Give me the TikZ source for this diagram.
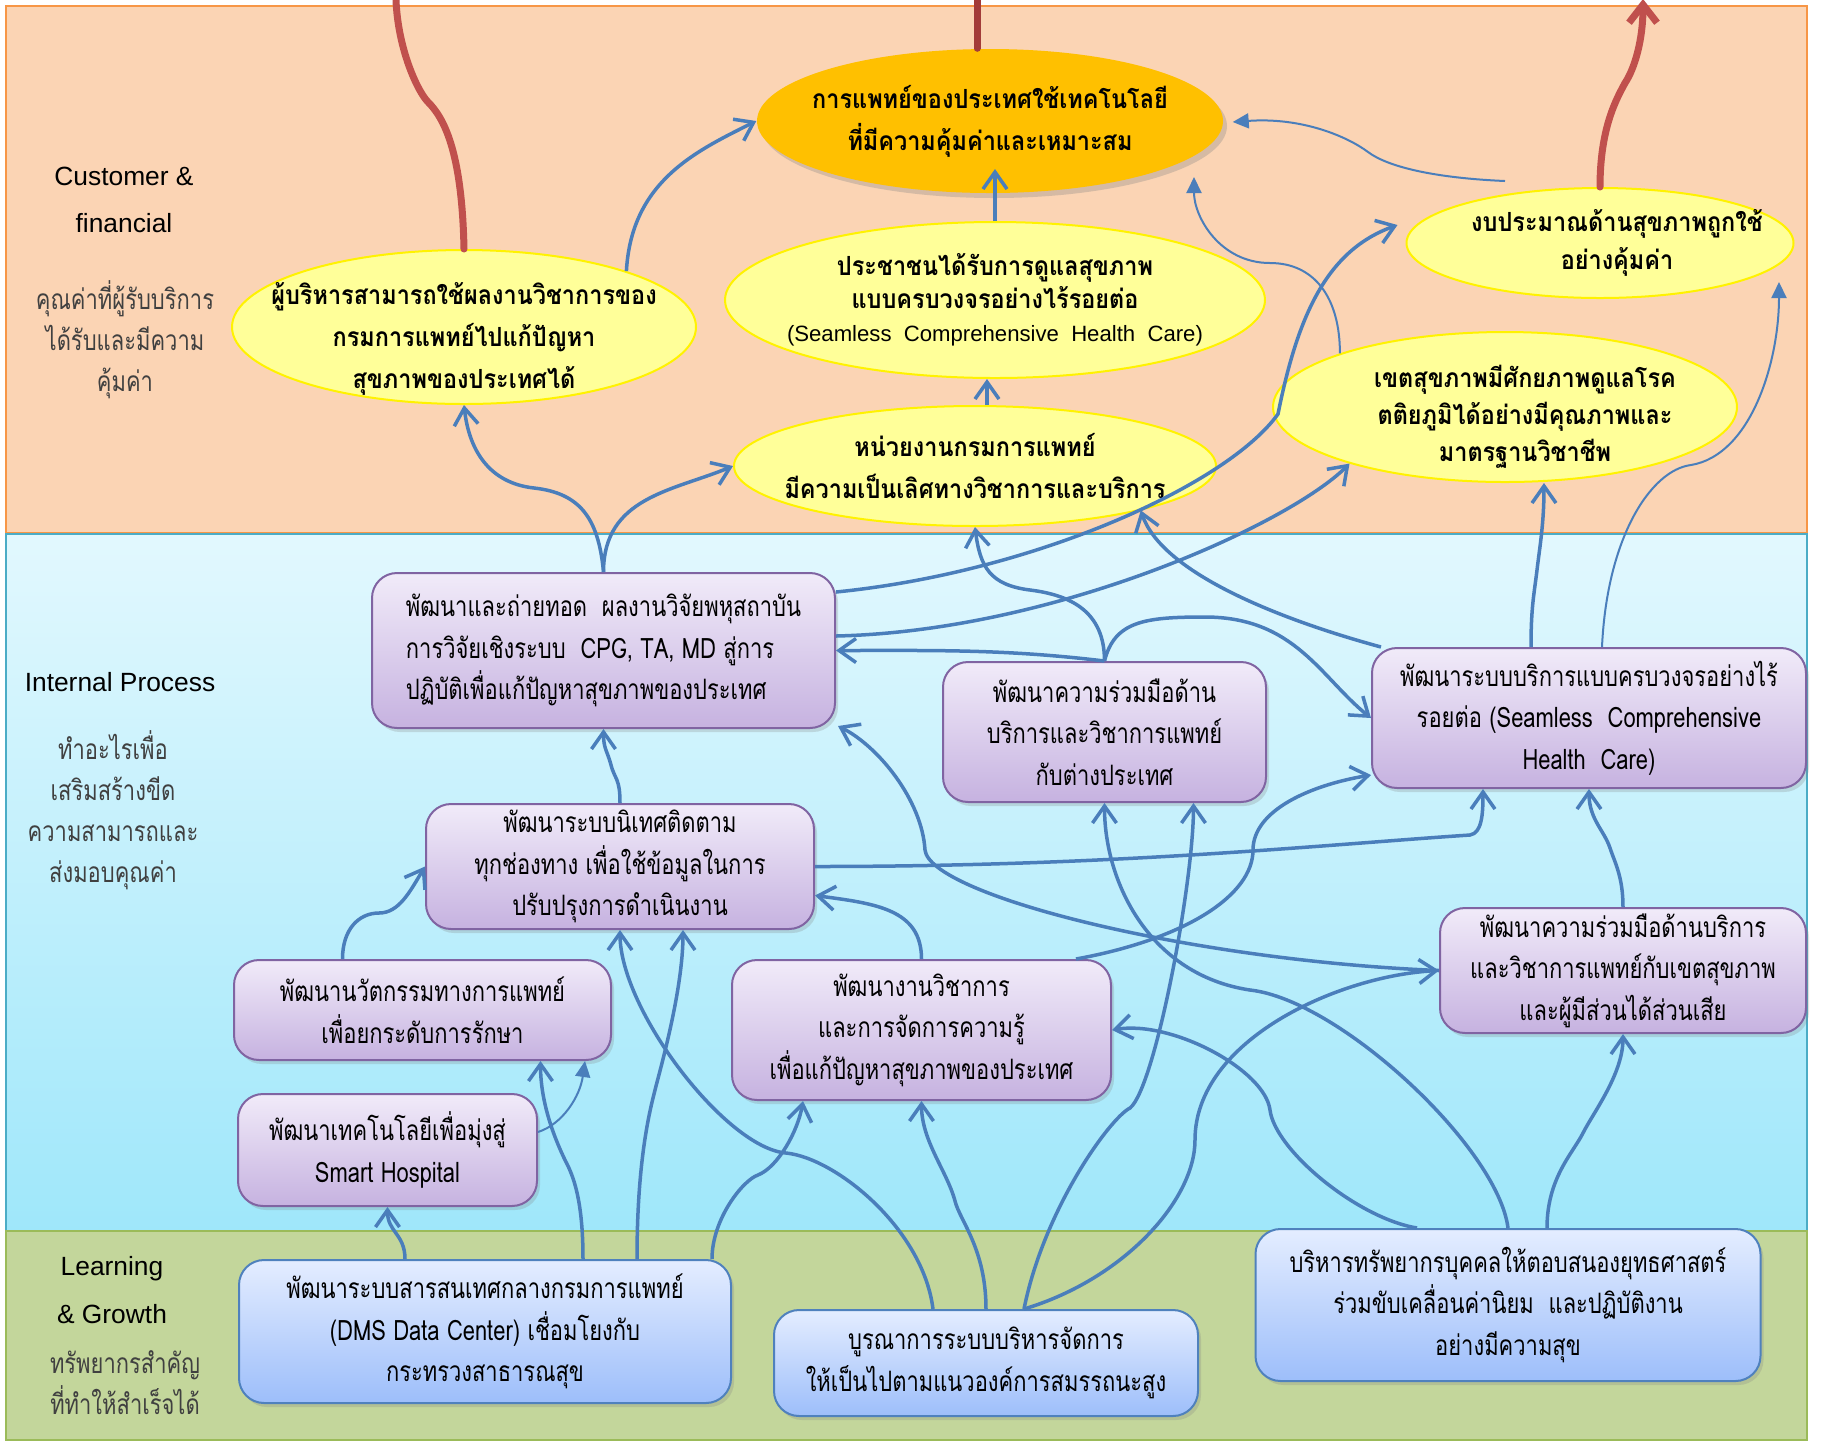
\documentclass[tikz,border=0pt]{standalone}
\usepackage{fontspec}
\setmainfont[Script=Thai]{Loma}
\newfontfamily\thainarrow[Script=Thai, FakeStretch=0.78]{Loma}
\newfontfamily\thaibold[Script=Thai, FakeStretch=0.89]{Loma}
\newfontfamily\latinsans{Liberation Sans}
\usepackage{tikz}
\usetikzlibrary{arrows.meta, calc, shapes.geometric, shadows}

\definecolor{bandtop}{HTML}{FBD4B4}
\definecolor{bandtopline}{HTML}{F79646}
\definecolor{bandmidhi}{HTML}{E2F8FE}
\definecolor{bandmidlo}{HTML}{9FE7FA}
\definecolor{bandmidline}{HTML}{4BACC6}
\definecolor{bandlow}{HTML}{C3D69B}
\definecolor{bandlowline}{HTML}{9BBB59}
\definecolor{yellfill}{HTML}{FFFF99}
\definecolor{goalfill}{HTML}{FFC000}
\definecolor{prochi}{HTML}{F1EBF9}
\definecolor{proclo}{HTML}{C6B2E0}
\definecolor{procline}{HTML}{8064A2}
\definecolor{learnhi}{HTML}{E4EDFF}
\definecolor{learnlo}{HTML}{9DBEFA}
\definecolor{learnline}{HTML}{4F81BD}
\definecolor{linkblue}{HTML}{4A7EBB}
\definecolor{redlink}{HTML}{C0504D}
\definecolor{reddark}{HTML}{A33B39}
\definecolor{notegray}{HTML}{404040}

\newcommand\ellfont{\thaibold\bfseries\fontsize{7.5}{11.9}\selectfont}
\newcommand\boxfont{\thainarrow\fontsize{8}{11.8}\selectfont}

\begin{document}
\begin{tikzpicture}[x=0.1mm, y=-0.1mm,
	side/.style={align=center, font=\latinsans\fontsize{7.5}{13.6}\selectfont},
	sidenote/.style={align=center, text=notegray, font=\thainarrow\fontsize{8}{11.7}\selectfont},
	ellip/.style={ellipse, fill=yellfill, draw=yellow, line width=0.2mm, align=center,
		inner xsep=-20mm, inner ysep=-8mm, font=\ellfont},
	elltext/.style={align=center, inner sep=0pt, font=\ellfont},
	goal/.style={ellipse, fill=goalfill, align=center, inner xsep=-20mm, inner ysep=-8mm, font=\ellfont,
		drop shadow={opacity=0.3, shadow xshift=0.4mm, shadow yshift=-0.5mm}},
	proc/.style={rectangle, rounded corners=2.5mm, top color=prochi, bottom color=proclo, draw=procline,
		line width=0.2mm, align=center, inner sep=0pt, font=\boxfont,
		drop shadow={opacity=0.25, shadow xshift=0.3mm, shadow yshift=-0.4mm}},
	learn/.style={proc, top color=learnhi, bottom color=learnlo, draw=learnline},
	flow/.style={draw=linkblue, line width=0.35mm, -{Straight Barb[length=1.7mm, width=2.4mm]}},
	feed/.style={draw=linkblue, line width=0.2mm, -{Triangle[length=1.6mm, width=1.5mm]}},
	redline/.style={draw=redlink, line width=0.7mm, line cap=round}]

	\useasboundingbox (0,0) rectangle (1825,1441);
	\path [fill=bandtop, draw=bandtopline, line width=0.25mm] (6,6) rectangle (1807,533);
	\path [top color=bandmidhi, bottom color=bandmidlo, draw=bandmidline, line width=0.25mm] (6,534) rectangle (1807,1231);
	\path [fill=bandlow, draw=bandlowline, line width=0.25mm] (6,1231) rectangle (1807,1440);

	\node (H1) at (124,200) [side] {Customer \&\\financial};
	\node (N1) at (125,340) [sidenote] {คุณค่าที่ผู้รับบริการ\\ได้รับและมีความ\\คุ้มค่า};
	\node (H2) at (120,682) [side] {Internal Process};
	\node (N2) at (113,810) [sidenote] {ทำอะไรเพื่อ\\เสริมสร้างขีด\\ความสามารถและ\\ส่งมอบคุณค่า};
	\node (H3) at (112,1290) [side] {Learning\\\& Growth};
	\node (N3) at (125,1383) [sidenote] {ทรัพยากรสำคัญ\\ที่ทำให้สำเร็จได้};

	\node (EO) at (990,121) [goal, minimum width=46.6mm, minimum height=14.4mm] {การแพทย์ของประเทศใช้เทคโนโลยี\\ที่มีความคุ้มค่าและเหมาะสม};
	\node (E1) at (464,327) [ellip, minimum width=46.4mm, minimum height=15.4mm] {};
	\path (E1) ++(0,12) node (E1T) [elltext] {ผู้บริหารสามารถใช้ผลงานวิชาการของ\\กรมการแพทย์ไปแก้ปัญหา\\สุขภาพของประเทศได้};
	\node (E2) at (995,300) [ellip, minimum width=54mm, minimum height=15.6mm, font=\thaibold\bfseries\fontsize{7.5}{9.4}\selectfont] {ประชาชนได้รับการดูแลสุขภาพ\\แบบครบวงจรอย่างไร้รอยต่อ\\{\latinsans\mdseries\fontsize{6.3}{9.4}\selectfont (Seamless\ \ Comprehensive\ \ Health\ \ Care)}};
	\node (E3) at (975,466) [ellip, minimum width=48.2mm, minimum height=12mm] {หน่วยงานกรมการแพทย์\\มีความเป็นเลิศทางวิชาการและบริการ};
	\node (E4) at (1600,243) [ellip, minimum width=38.7mm, minimum height=11mm] {};
	\path (E4) ++(17,0) node (E4T) [elltext, font=\thaibold\bfseries\fontsize{7.5}{10.8}\selectfont] {งบประมาณด้านสุขภาพถูกใช้\\อย่างคุ้มค่า};
	\node (E5) at (1505,407) [ellip, minimum width=46.4mm, minimum height=15mm] {};
	\path (E5) ++(20,10) node (E5T) [elltext, font=\thaibold\bfseries\fontsize{7.5}{10.6}\selectfont] {เขตสุขภาพมีศักยภาพดูแลโรค\\ตติยภูมิได้อย่างมีคุณภาพและ\\มาตรฐานวิชาชีพ};

	\node (P1) at (603.5,650.5) [proc, minimum width=46.3mm, minimum height=15.5mm, align=left] {พัฒนาและถ่ายทอด\ \ ผลงานวิจัยพหุสถาบัน\\การวิจัยเชิงระบบ\ \ CPG, TA, MD สู่การ\\ปฏิบัติเพื่อแก้ปัญหาสุขภาพของประเทศ};
	\node (P2) at (620,866.5) [proc, minimum width=38.8mm, minimum height=12.5mm] {พัฒนาระบบนิเทศติดตาม\\ทุกช่องทาง เพื่อใช้ข้อมูลในการ\\ปรับปรุงการดำเนินงาน};
	\node (P3) at (422.5,1010) [proc, minimum width=37.7mm, minimum height=10mm] {พัฒนานวัตกรรมทางการแพทย์\\เพื่อยกระดับการรักษา};
	\node (P4) at (387.5,1150) [proc, minimum width=29.9mm, minimum height=11.2mm] {พัฒนาเทคโนโลยีเพื่อมุ่งสู่\\Smart Hospital};
	\node (P5) at (921.5,1030) [proc, minimum width=37.9mm, minimum height=14mm] {พัฒนางานวิชาการ\\และการจัดการความรู้\\เพื่อแก้ปัญหาสุขภาพของประเทศ};
	\node (P6) at (1104.5,732) [proc, minimum width=32.3mm, minimum height=14mm] {พัฒนาความร่วมมือด้าน\\บริการและวิชาการแพทย์\\กับต่างประเทศ};
	\node (P7) at (1589,718) [proc, minimum width=43.4mm, minimum height=14mm] {พัฒนาระบบบริการแบบครบวงจรอย่างไร้\\รอยต่อ (Seamless\ \ Comprehensive\\Health\ \ Care)};
	\node (P8) at (1623,970.5) [proc, minimum width=36.6mm, minimum height=12.5mm] {พัฒนาความร่วมมือด้านบริการ\\และวิชาการแพทย์กับเขตสุขภาพ\\และผู้มีส่วนได้ส่วนเสีย};

	\node (L1) at (485,1331.5) [learn, minimum width=49.2mm, minimum height=14.3mm] {พัฒนาระบบสารสนเทศกลางกรมการแพทย์\\(DMS Data Center) เชื่อมโยงกับ\\กระทรวงสาธารณสุข};
	\node (L2) at (986,1363) [learn, minimum width=42.4mm, minimum height=10.6mm] {บูรณาการระบบบริหารจัดการ\\ให้เป็นไปตามแนวองค์การสมรรถนะสูง};
	\node (L3) at (1508,1305) [learn, minimum width=50.5mm, minimum height=15.2mm] {บริหารทรัพยากรบุคคลให้ตอบสนองยุทธศาสตร์\\ร่วมขับเคลื่อนค่านิยม\ \ และปฏิบัติงาน\\อย่างมีความสุข};

	\coordinate (T1) at (396,0);
	\coordinate (T2) at (977,0);
	\coordinate (T3) at (1643,-1);
	\draw [redline] (E1.north) .. controls +(-2,-100) and +(15,15) .. (428,102) .. controls +(-10,-10) and +(2,50) .. (T1);
	\draw [redline, draw=reddark] ($(EO.north)+(-13,0)$) -- (T2);
	\draw [redline, -{Straight Barb[length=1.8mm, width=2.8mm]}] (E4.north) .. controls +(0,-60) and +(-8,15) .. (1625,83) .. controls +(10,-15) and +(0,40) .. (T3);

	\draw [flow] (P1.north) .. controls +(-5,-55) and +(45,5) .. (534,488) .. controls +(-45,-5) and +(5,45) .. (E1.south);
	\draw [flow] (P1.north) .. controls +(0,-75) and +(-60,25) .. (E3.west);
	\draw [flow] (E1.19) .. controls +(5,-90) and +(-60,30) .. (EO.west);
	\draw [flow] (E2.north) -- ++(0,-52);
	\draw [flow] ($(E3.north)+(12,0)$) -- ($(E2.south)+(-8,0)$);
	\draw [flow] ($(P1.north east)+(0,20)$) .. controls +(200,-20) and +(-50,70) .. (1278,414) .. controls +(20,-100) and +(-70,25) .. ($(E4.west)+(-8,-18)$);
	\draw [flow] ($(P1.north east)+(0,64)$) .. controls +(220,-5) and +(-60,60) .. (E5.200);
	\draw [flow] (P6.north) .. controls +(0,-50) and +(40,5) .. (1030,590) .. controls +(-40,-5) and +(5,40) .. (E3.south);
	\draw [flow] (P6.north) .. controls +(-100,-12) and +(100,0) .. (P1.east);
	\draw [flow] (P6.north) .. controls +(10,-40) and +(-60,0) .. (1205,617) .. controls +(90,0) and +(-50,-40) .. (P7.west);
	\draw [flow] ($(P7.north west)+(10,0)$) .. controls +(-110,-30) and +(20,60) .. (E3.345);
	\draw [flow] ($(P7.north)+(-58,0)$) .. controls +(0,-40) and +(-3,25) .. (1537,570) .. controls +(3,-25) and +(0,40) .. ($(E5.south)+(39,0)$);
	\draw [feed] ($(P7.north)+(13,0)$) .. controls +(5,-110) and +(-40,5) .. (1691,465) .. controls +(60,-10) and +(0,80) .. ($(E4.center)+(179,39)$);
	\draw [feed] (E5.162) .. controls +(0,-55) and +(45,0) .. (1270,263) .. controls +(-50,0) and +(0,40) .. ($(EO.center)+(204,56)$);
	\draw [feed] ($(E4.north)+(-95,-6)$) .. controls +(-70,-3) and +(20,15) .. (1368,152) .. controls +(-20,-15) and +(70,-5) .. ($(EO.east)+(9,1)$);

	\draw [flow] (P2.north) .. controls +(0,-25) and +(4,15) .. (611,765) .. controls +(-4,-15) and +(0,20) .. (P1.south);
	\draw [flow] ($(P3.north)+(-80,0)$) .. controls +(0,-30) and +(-20,0) .. (379,913) .. controls +(20,0) and +(-15,25) .. (P2.west);
	\draw [flow] (P2.east) .. controls +(300,0) and +(-150,10) .. (1470,835) .. controls +(12,-2) and +(0,25) .. ($(P7.south)+(-106,0)$);
	\draw [flow] (P5.north) .. controls +(0,-50) and +(60,8) .. ($(P2.east)+(0,29)$);
	\draw [flow] (P8.west) .. controls +(-250,-10) and +(5,45) .. (925,850) .. controls +(-3,-50) and +(40,20) .. ($(P1.south east)+(2,-3)$);
	\draw [flow] ($(P5.north east)+(-36,0)$) .. controls +(110,-20) and +(0,45) .. (1253,850) .. controls +(0,-40) and +(-60,10) .. ($(P7.west)+(0,57)$);
	\draw [flow] (P8.north) .. controls +(0,-30) and +(5,15) .. (1610,848) .. controls +(-6,-18) and +(0,30) .. (P7.south);

	\draw [flow] ($(L1.north)+(-80,0)$) .. controls +(0,-25) and +(0,25) .. (P4.south);
	\draw [feed] ($(P4.east)+(0,-18)$) .. controls +(25,-8) and +(-5,35) .. ($(P3.south east)+(-27,0)$);
	\draw [flow] ($(L1.north)+(98,0)$) .. controls +(0,-60) and +(8,15) .. (565,1160) .. controls +(-12,-25) and +(0,40) .. ($(P3.south)+(118,0)$);
	\draw [flow] ($(L1.north)+(152,0)$) .. controls +(0,-100) and +(-5,20) .. (655,1090) .. controls +(5,-20) and +(0,60) .. ($(P2.south)+(63,0)$);
	\draw [flow] ($(L1.north)+(227,0)$) .. controls +(0,-40) and +(-15,5) .. (758,1175) .. controls +(20,-8) and +(-5,30) .. ($(P5.south west)+(72,0)$);
	\draw [flow] ($(L2.north)+(-53,0)$) .. controls +(-10,-80) and +(50,5) .. (786,1153) .. controls +(-60,-5) and +(0,80) .. (P2.south);
	\draw [flow] (L2.north) .. controls +(0,-60) and +(5,20) .. (955,1201) .. controls +(-8,-30) and +(0,40) .. (P5.south);
	\draw [flow] ($(L2.north)+(38,0)$) .. controls +(20,-100) and +(-20,10) .. (1130,1108) .. controls +(25,-20) and +(0,80) .. ($(P6.south)+(89,0)$);
	\draw [flow] ($(L2.north)+(38,0)$) .. controls +(100,-30) and +(0,60) .. (1195,1140) .. controls +(0,-100) and +(-100,5) .. (P8.west);
	\draw [flow] ($(L3.north)+(-91,0)$) .. controls +(-60,-10) and +(5,40) .. (1270,1110) .. controls +(-5,-40) and +(60,-10) .. (P5.east);
	\draw [flow] (L3.north) .. controls +(-10,-80) and +(90,10) .. (1250,990) .. controls +(-100,-15) and +(0,80) .. (P6.south);
	\draw [flow] ($(L3.north)+(39,0)$) .. controls +(0,-50) and +(-10,20) .. (1583,1133) .. controls +(10,-20) and +(0,40) .. (P8.south);

\end{tikzpicture}
\end{document}
